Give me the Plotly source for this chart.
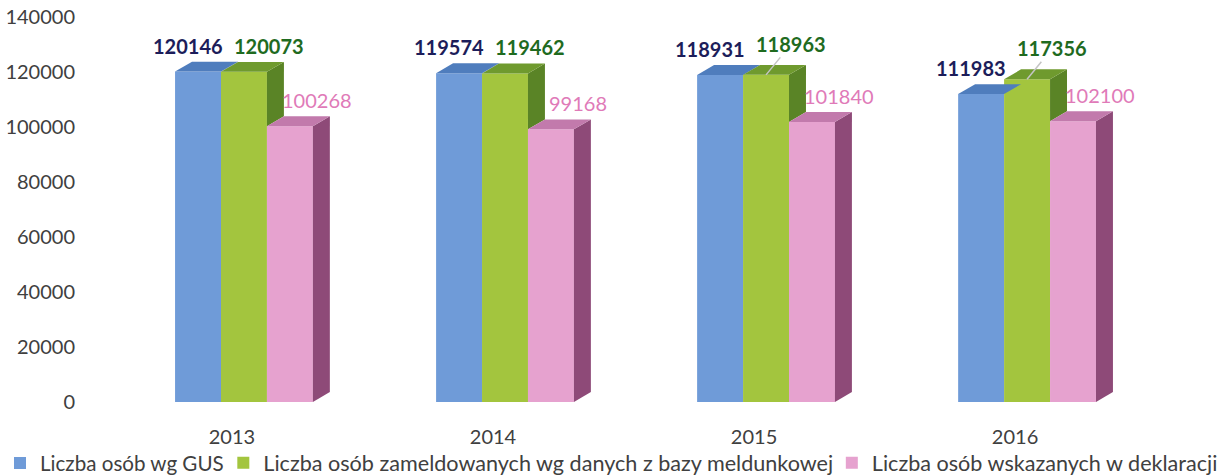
import plotly.graph_objects as go

years = ["2013", "2014", "2015", "2016"]
gus = [120146, 119574, 118931, 111983]
meld = [120073, 119462, 118963, 117356]
dekl = [100268, 99168, 101840, 102100]

series_names = [
    "Liczba osób wg GUS",
    "Liczba osób zameldowanych wg danych z bazy meldunkowej",
    "Liczba osób wskazanych w deklaracji",
]
series_values = [gus, meld, dekl]

front_colors = ["#6f9bd8", "#a3c53e", "#e6a2cf"]
top_colors = ["#4f7dbd", "#6f9a2e", "#c27aac"]
side_colors = ["#3f679f", "#5a8426", "#8e4a78"]
label_colors = ["#1c1d5a", "#1f6b1f", "#e07ab8"]
label_bold = [True, True, False]
# label horizontal offsets (category units) and whether a leader line is drawn
label_dx = [-0.04, 0.097, 0.103]
leader = [[False] * 4, [False, False, True, True], [False] * 4]
# one legend box per series, placed like the reference
legend_ids = ["legend", "legend2", "legend3"]
legend_x = [-0.010, 0.1835, 0.6835]
legend_font_sizes = [20.6, 21.6, 21.6]

offsets = [-0.130, 0.046, 0.222]
width = 0.176
dx = 0.065
dy = 3600

font_family = "Lato, 'Open Sans', sans-serif"
PX_PER_UNIT = 261.0

fig = go.Figure()

# front faces as bars
for s, (name, vals) in enumerate(zip(series_names, series_values)):
    fig.add_trace(go.Bar(
        x=[i + offsets[s] for i in range(len(years))],
        y=vals,
        width=width,
        name=name,
        legend=legend_ids[s],
        marker=dict(color=front_colors[s], line=dict(width=0)),
        hoverinfo="y",
    ))

# depth faces (side + top), computed from data
for s, vals in enumerate(series_values):
    for i, v in enumerate(vals):
        xl = i + offsets[s] - width / 2
        xr = i + offsets[s] + width / 2
        last = s == len(series_values) - 1
        lo = 0 if last else min(series_values[s + 1][i], v)
        if last or lo < v:
            fig.add_trace(go.Scatter(
                x=[xr, xr, xr + dx, xr + dx, xr],
                y=[lo, v, v + dy, lo + dy, lo],
                fill="toself", mode="lines",
                line=dict(width=0, color=side_colors[s]),
                fillcolor=side_colors[s], showlegend=False, hoverinfo="skip",
            ))
        fig.add_trace(go.Scatter(
            x=[xl, xr, xr + dx, xl + dx, xl],
            y=[v, v, v + dy, v + dy, v],
            fill="toself", mode="lines",
            line=dict(width=0, color=top_colors[s]),
            fillcolor=top_colors[s], showlegend=False, hoverinfo="skip",
        ))

# data labels
for s, vals in enumerate(series_values):
    for i, v in enumerate(vals):
        txt = f"<b>{v}</b>" if label_bold[s] else str(v)
        fnt = dict(family=font_family, size=20, color=label_colors[s])
        if leader[s][i]:
            fig.add_annotation(
                x=i + offsets[s], y=v, text=txt,
                showarrow=True, arrowhead=0, arrowwidth=1.5,
                arrowcolor="#c4c4c4", standoff=0,
                ax=label_dx[s] * PX_PER_UNIT, ay=-31,
                font=fnt,
            )
        else:
            fig.add_annotation(
                x=i + offsets[s] + label_dx[s], y=v,
                text=txt, showarrow=False, yanchor="middle", yshift=26,
                font=fnt,
            )

legend_common = dict(
    orientation="h", xref="container", yref="container",
    y=0.025, xanchor="left", yanchor="middle",
    itemwidth=30, borderwidth=0, bgcolor="rgba(0,0,0,0)",
)
legends = {
    lid: dict(x=legend_x[k],
              font=dict(family=font_family, size=legend_font_sizes[k], color="#404040"),
              **legend_common)
    for k, lid in enumerate(legend_ids)
}

fig.update_layout(
    width=1217, height=475,
    margin=dict(l=85, r=20, t=17, b=73, autoexpand=False),
    paper_bgcolor="white", plot_bgcolor="white",
    barmode="overlay",
    font=dict(family=font_family, size=20, color="#404040"),
    xaxis=dict(
        range=[-0.563, 3.697],
        tickvals=list(range(len(years))), ticktext=years,
        showgrid=False, zeroline=False, showline=False,
        ticks="outside", ticklen=17, tickcolor="rgba(0,0,0,0)",
        tickfont=dict(size=20, color="#404040"),
        automargin=False,
    ),
    yaxis=dict(
        range=[0, 140000], dtick=20000, tickformat="d",
        showgrid=False, zeroline=False, showline=False,
        ticks="outside", ticklen=5, tickcolor="rgba(0,0,0,0)",
        tickfont=dict(size=20, color="#404040"),
        automargin=False,
    ),
    showlegend=True,
    **legends,
)

fig.write_html(
    "out.html",
    config={"displayModeBar": False},
    post_script="document.body.style.margin='0';",
)
